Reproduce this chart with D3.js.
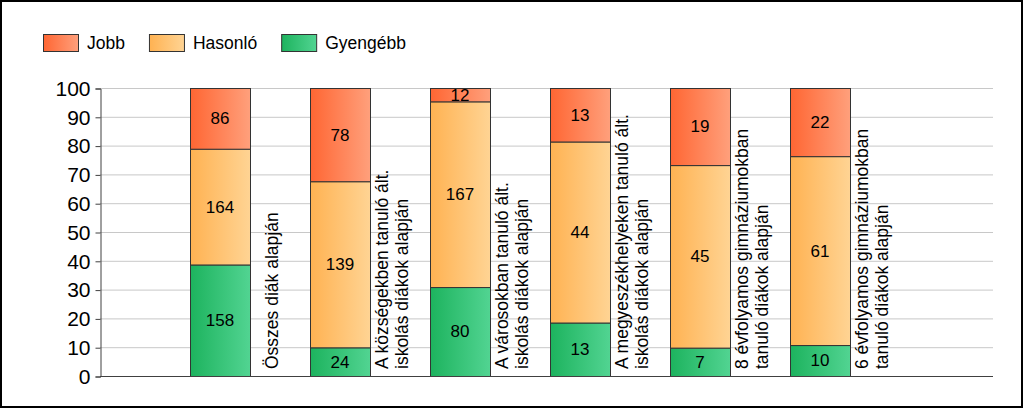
<!DOCTYPE html>
<html>
<head>
<meta charset="utf-8">
<script src="https://cdn.jsdelivr.net/npm/d3@7"></script>
<style>
  html, body { margin: 0; padding: 0; background: #fff; }
  svg { display: block; font-family: "Liberation Sans", Arial, sans-serif; }
</style>
</head>
<body>
<svg id="chart" width="1024" height="410"></svg>
<script>
// ---- data ----
const categories = [
  ["Összes diák alapján"],
  ["A községekben tanuló ált.", "iskolás diákok alapján"],
  ["A városokban tanuló ált.", "iskolás diákok alapján"],
  ["A megyeszékhelyeken tanuló ált.", "iskolás diákok alapján"],
  ["8 évfolyamos gimnáziumokban", "tanuló diákok alapján"],
  ["6 évfolyamos gimnáziumokban", "tanuló diákok alapján"]
];
const seriesNames = ["Gyengébb", "Hasonló", "Jobb"];
const gyengebb = [158, 24, 80, 13, 7, 10];
const hasonlo  = [164, 139, 167, 44, 45, 61];
const jobb     = [86, 78, 12, 13, 19, 22];
const legendOrder = ["Jobb", "Hasonló", "Gyengébb"];
const yTicks = [0, 10, 20, 30, 40, 50, 60, 70, 80, 90, 100];

// ---- styles ----
const colors = {
  "Jobb":     ["#FF6633", "#FFA07C"],
  "Hasonló":  ["#FFB252", "#FFD494"],
  "Gyengébb": ["#1DB35E", "#52D492"]
};

const svg = d3.select("#chart");
const defs = svg.append("defs");
Object.entries(colors).forEach(([k, c], i) => {
  const g = defs.append("linearGradient").attr("id", "grad" + i)
    .attr("x1", "0%").attr("x2", "100%").attr("y1", "0%").attr("y2", "0%");
  g.append("stop").attr("offset", "0%").attr("stop-color", c[0]);
  g.append("stop").attr("offset", "100%").attr("stop-color", c[1]);
  colors[k].id = "url(#grad" + i + ")";
});

// outer border
svg.append("rect").attr("x", 1).attr("y", 1).attr("width", 1021).attr("height", 406)
  .attr("fill", "#fff").attr("stroke", "#000").attr("stroke-width", 2);

const plotLeft = 100, plotRight = 993;
const y = d3.scaleLinear().domain([0, 100]).range([376, 88]);
const x = d3.scaleBand().domain(d3.range(categories.length)).range([160, 880])
  .paddingInner(0.5).paddingOuter(0.25);

// gridlines
svg.append("g").selectAll("line").data(yTicks.filter(t => t > 0)).join("line")
  .attr("x1", plotLeft).attr("x2", plotRight)
  .attr("y1", d => y(d) + 0.5).attr("y2", d => y(d) + 0.5)
  .attr("stroke", "#c8c8c8").attr("stroke-width", 1);

// y axis
const yAxis = d3.axisLeft(y).tickValues(yTicks).tickSize(5).tickPadding(5);
const ya = svg.append("g").attr("transform", `translate(${plotLeft + 0.5},0.5)`).call(yAxis);
ya.select(".domain").attr("stroke", "#404040");
ya.selectAll(".tick line").attr("stroke", "#404040");
ya.selectAll(".tick text").attr("font-size", 21).attr("fill", "#000")
  .attr("font-family", "Liberation Sans, Arial, sans-serif");

// stacked data
const rows = categories.map((c, i) => {
  const vals = { "Gyengébb": gyengebb[i], "Hasonló": hasonlo[i], "Jobb": jobb[i] };
  const total = gyengebb[i] + hasonlo[i] + jobb[i];
  let acc = 0;
  return seriesNames.map(s => {
    const p = vals[s] / total * 100;
    const seg = { i, s, v: vals[s], y0: acc, y1: acc + p };
    acc += p;
    return seg;
  });
});
const segs = rows.flat();

svg.append("g").selectAll("rect").data(segs).join("rect")
  .attr("x", d => x(d.i) + 0.5)
  .attr("width", x.bandwidth())
  .attr("y", d => y(d.y1) + 0.5)
  .attr("height", d => y(d.y0) - y(d.y1))
  .attr("fill", d => colors[d.s].id)
  .attr("stroke", "#333").attr("stroke-width", 1);

svg.append("g").selectAll("text").data(segs).join("text")
  .attr("x", d => x(d.i) + x.bandwidth() / 2)
  .attr("y", d => (y(d.y0) + y(d.y1)) / 2)
  .attr("dy", "0.35em")
  .attr("text-anchor", "middle")
  .attr("font-size", 17).attr("fill", "#000")
  .text(d => d.v);

// x axis line
svg.append("line").attr("x1", plotLeft).attr("x2", plotRight)
  .attr("y1", y(0) + 0.5).attr("y2", y(0) + 0.5)
  .attr("stroke", "#404040").attr("stroke-width", 1);

// category labels (rotated)
const lineH = 20;
categories.forEach((lines, i) => {
  const cx = x(i) + x.bandwidth() / 2 + 52;
  lines.forEach((t, j) => {
    const off = (j - (lines.length - 1) / 2) * lineH;
    svg.append("text")
      .attr("transform", `translate(${cx + off},369) rotate(-90)`)
      .attr("dy", "0.35em")
      .attr("text-anchor", "start")
      .attr("font-size", 17.5).attr("fill", "#000")
      .text(t);
  });
});

// legend
let lx = 43;
legendOrder.forEach(name => {
  const g = svg.append("g");
  g.append("rect").attr("x", lx + 0.5).attr("y", 34.5).attr("width", 35).attr("height", 17)
    .attr("fill", colors[name].id).attr("stroke", "#333").attr("stroke-width", 1);
  const t = g.append("text").attr("x", lx + 44).attr("y", 48.5)
    .attr("font-size", 17.5).attr("fill", "#000").text(name);
  const w = t.node().getComputedTextLength();
  lx = lx + 44 + w + 24;
});
</script>
</body>
</html>
